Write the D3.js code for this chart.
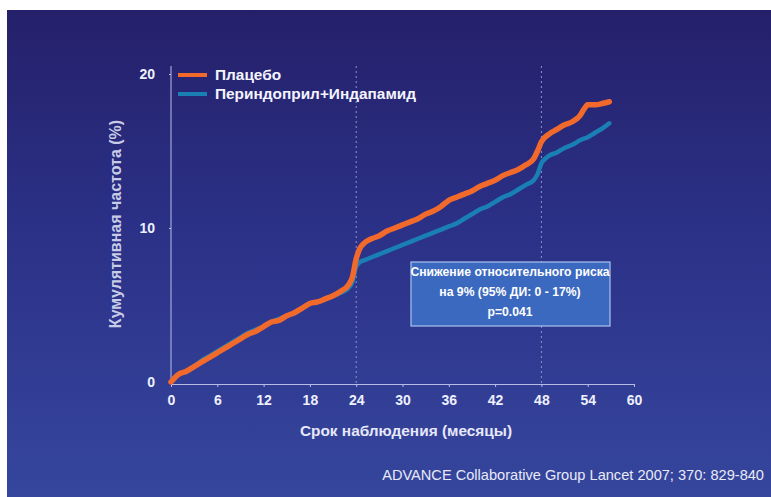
<!DOCTYPE html>
<html>
<head>
<meta charset="utf-8">
<script src="https://cdn.jsdelivr.net/npm/d3@7"></script>
<style>
  html, body { margin: 0; padding: 0; background: #fff; }
  svg { display: block; }
</style>
</head>
<body>
<div id="chart"></div>
<script>
// months of follow-up and cumulative incidence (%)
const placeboMonths = [0,1,2,3,4,5,6,7,8,9,10,11,12,13,14,15,16,17,18,19,20,21,22,23,23.5,24,24.5,25,26,27,28,29,30,31,32,33,34,35,36,37,38,39,40,41,42,43,44,45,46,47,47.5,48,49,50,51,52,53,53.5,54,55,56,56.8];
const placeboValues = [0,0.5,0.7,1.0,1.3,1.6,1.9,2.2,2.5,2.8,3.1,3.3,3.6,3.9,4.0,4.3,4.5,4.8,5.1,5.2,5.4,5.6,5.9,6.3,6.8,8.0,8.7,9.0,9.3,9.5,9.8,10.0,10.2,10.4,10.6,10.9,11.1,11.4,11.8,12.0,12.2,12.4,12.7,12.9,13.1,13.4,13.6,13.8,14.1,14.5,15.0,15.6,16.1,16.4,16.7,16.9,17.3,17.7,18.0,18.0,18.1,18.2];

const perindoprilMonths = [0,1,2,3,4,5,6,7,8,9,10,11,12,13,14,15,16,17,18,19,20,21,22,23,23.5,24,24.5,25,26,27,28,29,30,31,32,33,34,35,36,37,38,39,40,41,42,43,44,45,46,47,47.5,48,48.5,49,50,51,52,53,54,55,56,56.8];
const perindoprilValues = [0,0.5,0.7,1.0,1.4,1.7,2.0,2.3,2.6,2.9,3.2,3.4,3.6,3.9,4.1,4.3,4.5,4.8,5.1,5.2,5.4,5.6,5.8,6.1,6.5,7.5,7.8,7.9,8.1,8.3,8.5,8.7,8.9,9.1,9.3,9.5,9.7,9.9,10.1,10.3,10.6,10.9,11.2,11.4,11.7,12.0,12.2,12.5,12.8,13.1,13.5,14.2,14.5,14.7,14.9,15.2,15.4,15.7,15.9,16.2,16.5,16.8];

const xTicks = [0,6,12,18,24,30,36,42,48,54,60];
const yTicks = [0,10,20];
const refLines = [24,48];
const seriesNames = ["Плацебо", "Периндоприл+Индапамид"];
const seriesColors = ["#f2692c", "#1a7fb4"];
const boxLines = ["Снижение относительного риска", "на 9% (95% ДИ: 0 - 17%)", "p=0.041"];

const W = 771, H = 497;
const svg = d3.select("#chart").append("svg")
  .attr("width", W)
  .attr("height", H);

const defs = svg.append("defs");
const grad = defs.append("linearGradient")
  .attr("id", "bg")
  .attr("x1", 0).attr("y1", 0).attr("x2", 0).attr("y2", 1);
grad.append("stop").attr("offset", "0%").attr("stop-color", "#25206a");
grad.append("stop").attr("offset", "45%").attr("stop-color", "#2b3187");
grad.append("stop").attr("offset", "100%").attr("stop-color", "#36469d");

svg.append("rect")
  .attr("x", 7).attr("y", 10)
  .attr("width", W - 7).attr("height", H - 10)
  .attr("fill", "url(#bg)");

const x = d3.scaleLinear().domain([0, 60]).range([171, 634]);
const y = d3.scaleLinear().domain([0, 20]).range([382, 74]);

const axisColor = "#b9bde6";
const font = "'Liberation Sans', Arial, sans-serif";

// dashed reference lines
svg.selectAll("line.ref")
  .data(refLines)
  .enter()
  .append("line")
  .attr("class", "ref")
  .attr("x1", d => x(d)).attr("x2", d => x(d))
  .attr("y1", 66).attr("y2", 383)
  .style("stroke", "#8e93cc")
  .style("stroke-width", 1)
  .style("stroke-dasharray", "2,3");

// x axis
const xAxis = svg.append("g")
  .attr("transform", "translate(0,384)")
  .call(d3.axisBottom(x).tickValues(xTicks).tickSize(3).tickPadding(8));
xAxis.select(".domain").style("stroke", axisColor);
xAxis.selectAll(".tick line").style("stroke", axisColor);
xAxis.selectAll(".tick text")
  .style("fill", "#eef0ff")
  .style("font-family", font)
  .style("font-weight", "bold")
  .style("font-size", "14px");

// y axis
const yAxis = svg.append("g")
  .attr("transform", "translate(171,0)")
  .call(d3.axisLeft(y).tickValues(yTicks).tickSize(2).tickPadding(14));
yAxis.select(".domain").attr("d", "M0,66V384").style("stroke", axisColor);
yAxis.selectAll(".tick line").style("stroke", axisColor);
yAxis.selectAll(".tick text")
  .style("fill", "#eef0ff")
  .style("font-family", font)
  .style("font-weight", "bold")
  .style("font-size", "14px");

// axis titles
svg.append("text")
  .attr("x", 406).attr("y", 436)
  .attr("text-anchor", "middle")
  .style("fill", "#e6e8fa")
  .style("font-family", font)
  .style("font-weight", "bold")
  .style("font-size", "15.4px")
  .text("Срок наблюдения (месяцы)");

svg.append("text")
  .attr("transform", "translate(121,224) rotate(-90)")
  .attr("text-anchor", "middle")
  .style("fill", "#c9cce6")
  .style("font-family", font)
  .style("font-weight", "bold")
  .style("font-size", "16px")
  .text("Кумулятивная частота (%)");

// curves
const line = d3.line()
  .x(d => x(d[0]))
  .y(d => y(d[1]))
  .curve(d3.curveMonotoneX);

const series = [
  { pts: d3.zip(perindoprilMonths, perindoprilValues), color: seriesColors[1], w: 4.5 },
  { pts: d3.zip(placeboMonths, placeboValues), color: seriesColors[0], w: 5.5 },
];

svg.selectAll("path.curve")
  .data(series)
  .enter()
  .append("path")
  .attr("class", "curve")
  .attr("d", d => line(d.pts))
  .style("fill", "none")
  .style("stroke", d => d.color)
  .style("stroke-width", d => d.w)
  .style("stroke-linejoin", "round")
  .style("stroke-linecap", "round");

// legend
const legend = svg.append("g");
seriesNames.forEach((name, i) => {
  const ly = 75 + i * 19;
  legend.append("line")
    .attr("x1", 178).attr("x2", 207)
    .attr("y1", ly).attr("y2", ly)
    .style("stroke", seriesColors[i])
    .style("stroke-width", 4);
  legend.append("text")
    .attr("x", 215).attr("y", ly + 5)
    .style("fill", "#f4f4ff")
    .style("font-family", font)
    .style("font-weight", "bold")
    .style("font-size", "15.4px")
    .text(name);
});

// annotation box
svg.append("rect")
  .attr("x", 411).attr("y", 262)
  .attr("width", 199).attr("height", 64)
  .style("fill", "#3b69bf")
  .style("stroke", "#a9c4ee")
  .style("stroke-width", 1.2);

svg.selectAll("text.box")
  .data(boxLines)
  .enter()
  .append("text")
  .attr("class", "box")
  .attr("x", 510)
  .attr("y", (d, i) => 276 + i * 20)
  .attr("text-anchor", "middle")
  .style("fill", "#ffffff")
  .style("font-family", font)
  .style("font-weight", "bold")
  .style("font-size", "12.2px")
  .text(d => d);

// source
svg.append("text")
  .attr("x", 764).attr("y", 480)
  .attr("text-anchor", "end")
  .style("fill", "#e8eaf8")
  .style("font-family", font)
  .style("font-size", "14.6px")
  .text("ADVANCE Collaborative Group Lancet 2007; 370: 829-840");
</script>
</body>
</html>
